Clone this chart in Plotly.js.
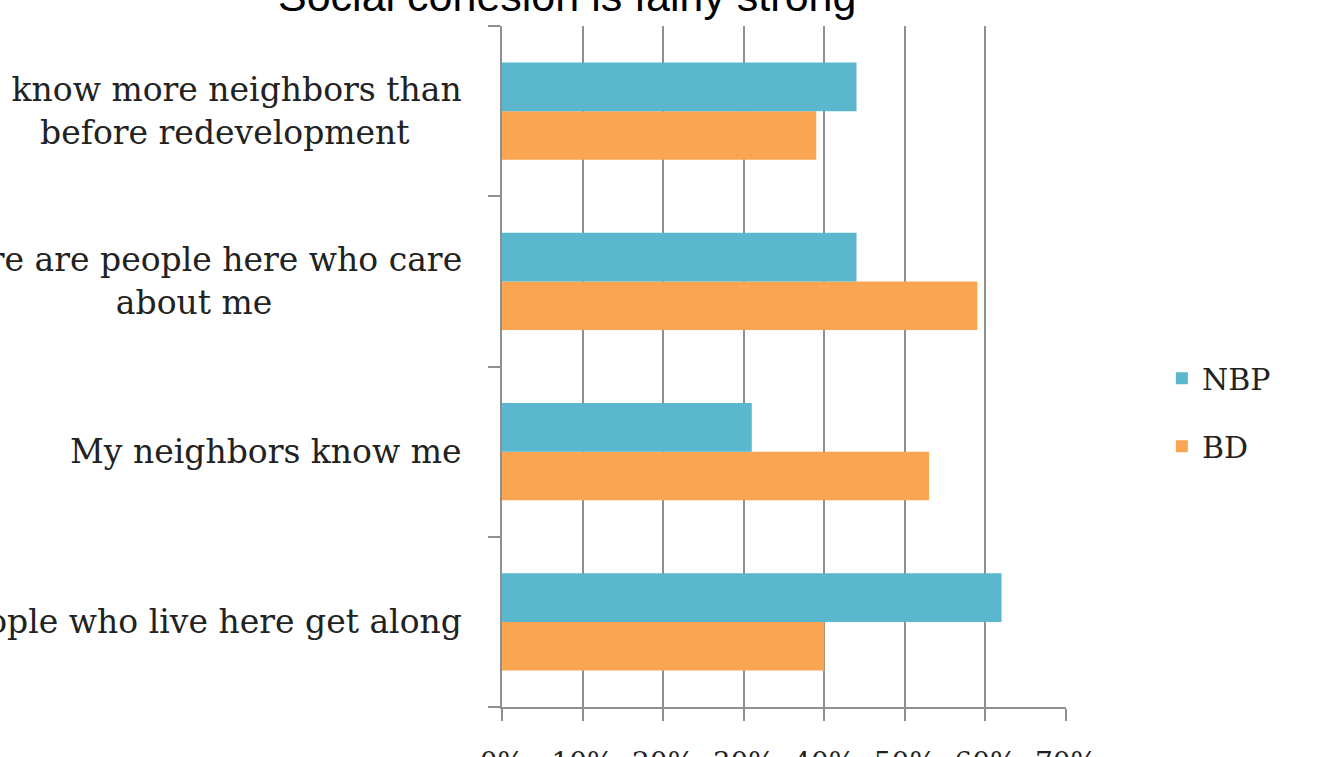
<!DOCTYPE html>
<html>
<head>
<meta charset="utf-8">
<script src="https://cdn.plot.ly/plotly-3.0.1.min.js"></script>
<style>html,body{margin:0;padding:0;background:#fff;}#chart{width:1329px;height:757px;}</style>
</head>
<body>
<div id="chart"></div>
<script>
// Categories listed bottom to top
const categories = [
  "People who live here get along",
  "My neighbors know me",
  "There are people here who care<br>about me",
  "I know more neighbors than<br>before redevelopment"
];
const nbpValues = [0.62, 0.31, 0.44, 0.44];
const bdValues  = [0.40, 0.53, 0.59, 0.39];
const xTickValues = [0, 0.1, 0.2, 0.3, 0.4, 0.5, 0.6, 0.7];
const xTickLabels = ["0%", "10%", "20%", "30%", "40%", "50%", "60%", "70%"];
const seriesNames = ["NBP", "BD"];
const titleText = "Social cohesion is fairly strong";

const serif = "DejaVu Serif, Liberation Serif, serif";

const traces = [
  {type: "bar", orientation: "h", name: seriesNames[1], y: categories, x: bdValues,
   marker: {color: "#F9A552"}, legendgroup: "b", legendrank: 2, hoverinfo: "x+y"},
  {type: "bar", orientation: "h", name: seriesNames[0], y: categories, x: nbpValues,
   marker: {color: "#5AB7CE"}, legendgroup: "a", legendrank: 1, hoverinfo: "x+y"}
];

const annotations = categories.map(c => ({
  xref: "paper", yref: "y", x: 0, y: c, xanchor: "right", yanchor: "middle",
  xshift: -38, text: c, showarrow: false, align: "center",
  font: {family: serif, size: 33, color: "#222"}
}));
annotations.push({
  xref: "paper", yref: "paper", x: 0.115, y: 1, xanchor: "center", yanchor: "bottom",
  yshift: 4, text: titleText, showarrow: false,
  font: {family: "Liberation Sans, Arial, sans-serif", size: 43, color: "#000"}
});

const layout = {
  width: 1329, height: 757,
  margin: {l: 502, r: 263, t: 26, b: 50},
  paper_bgcolor: "#fff", plot_bgcolor: "#fff",
  barmode: "group", bargap: 0.43, bargroupgap: 0,
  xaxis: {range: [0, 0.7], tickvals: xTickValues, ticktext: xTickLabels,
          showgrid: true, gridcolor: "#8f8f8f", gridwidth: 2,
          showline: true, linecolor: "#8f8f8f", linewidth: 2,
          ticks: "outside", ticklen: 12, tickwidth: 2, tickcolor: "#8f8f8f",
          ticklabelstandoff: 17, zeroline: false,
          tickfont: {family: serif, size: 28, color: "#222"}, fixedrange: true},
  yaxis: {type: "category", tickson: "boundaries", showticklabels: false,
          showgrid: false, showline: true, linecolor: "#8f8f8f", linewidth: 2,
          ticks: "outside", ticklen: 12, tickwidth: 2, tickcolor: "#8f8f8f",
          automargin: false, fixedrange: true},
  showlegend: true,
  legend: {x: 1.17, xanchor: "left", y: 0.433, yanchor: "middle", traceorder: "grouped",
           tracegroupgap: 26, bgcolor: "rgba(0,0,0,0)",
           font: {family: serif, size: 30, color: "#222"}},
  annotations: annotations
};

Plotly.newPlot("chart", traces, layout, {displayModeBar: false, responsive: false});
</script>
</body>
</html>
